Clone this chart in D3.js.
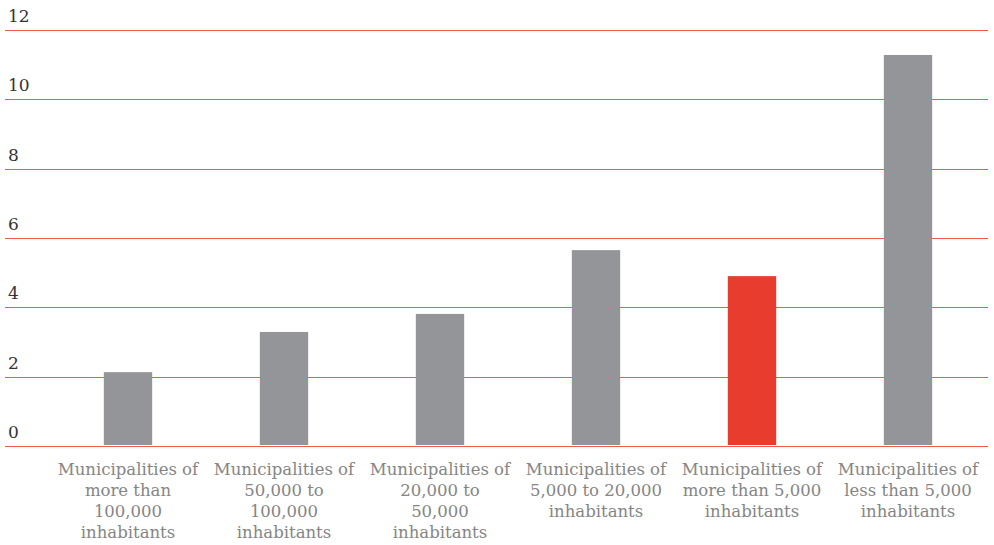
<!DOCTYPE html>
<html><head><meta charset="utf-8">
<script src="https://cdn.jsdelivr.net/npm/d3@7"></script>
<style>body{margin:0;background:#fff}</style>
</head><body>
<svg id="c" width="994" height="545"></svg>
<script>
const categories = [
  ["Municipalities of","more than","100,000","inhabitants"],
  ["Municipalities of","50,000 to","100,000","inhabitants"],
  ["Municipalities of","20,000 to","50,000","inhabitants"],
  ["Municipalities of","5,000 to 20,000","inhabitants"],
  ["Municipalities of","more than 5,000","inhabitants"],
  ["Municipalities of","less than 5,000","inhabitants"]
];
const values = [2.13, 3.29, 3.81, 5.65, 4.9, 11.28];
const highlight = [false, false, false, false, true, false];
const yTicks = [0, 2, 4, 6, 8, 10, 12];

const svg = d3.select("#c");
const font = "'DejaVu Serif', serif";
const y = d3.scaleLinear().domain([0, 12]).range([446, 30]);
const x = d3.scaleBand().domain(d3.range(categories.length)).range([50, 986]).paddingInner(0.69).paddingOuter(0.345);

const grid = svg.append("g");
grid.selectAll("line").data(yTicks).join("line")
  .attr("x1", 5).attr("x2", 988)
  .attr("y1", d => Math.round(y(d)) + 0.5).attr("y2", d => Math.round(y(d)) + 0.5)
  .attr("stroke", "#ef5a4c").attr("stroke-width", 1).attr("shape-rendering", "crispEdges");
grid.selectAll("text").data(yTicks).join("text")
  .attr("x", 8).attr("y", d => y(d) - 8)
  .attr("font-family", font).attr("font-size", 17).attr("fill", "#333")
  .text(d => d);

svg.append("g").selectAll("rect").data(values).join("rect")
  .attr("x", (d, i) => x(i)).attr("width", x.bandwidth())
  .attr("y", d => y(d)).attr("height", d => y(0) - y(d) - 1)
  .attr("fill", (d, i) => highlight[i] ? "#e83c2e" : "#949599");

const lab = svg.append("g").selectAll("text").data(categories).join("text")
  .attr("x", (d, i) => x(i) + x.bandwidth() / 2).attr("y", 475)
  .attr("text-anchor", "middle")
  .attr("font-family", font).attr("font-size", 16.5).attr("fill", "#858585");
lab.each(function(lines) {
  const t = d3.select(this);
  lines.forEach((l, j) => t.append("tspan").attr("x", t.attr("x")).attr("dy", j ? 21 : 0).text(l));
});
</script>
</body></html>
